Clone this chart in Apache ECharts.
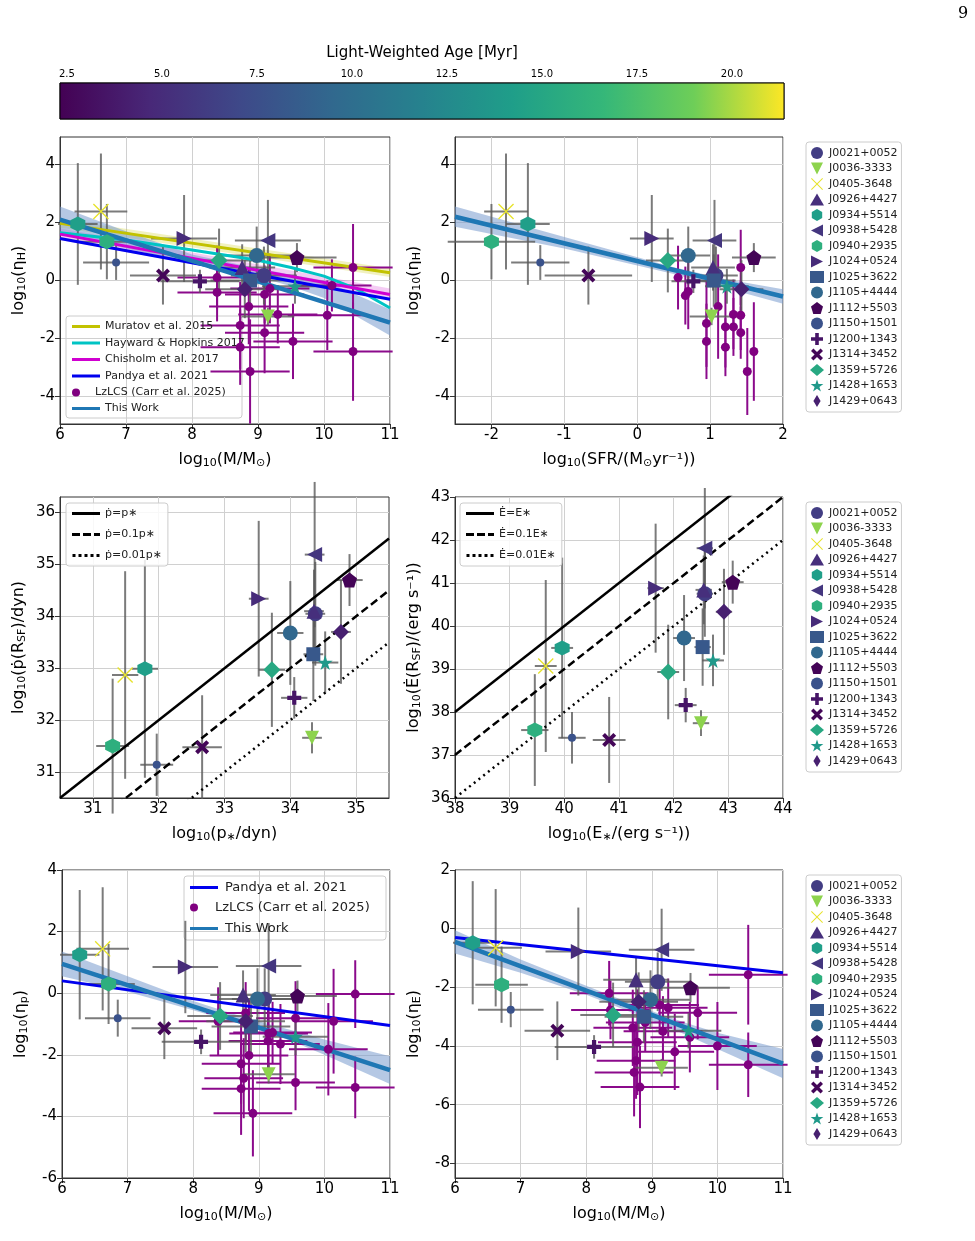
<!DOCTYPE html>
<html>
<head>
<meta charset="utf-8">
<script src="https://cdn.jsdelivr.net/npm/echarts@6/dist/echarts.min.js"></script>
<style>html,body{margin:0;background:#fff}#main{width:975px;height:1241px}</style>
</head>
<body>
<div id="main"></div>
<script>
// galaxies (legend order)
var names = ['J0021+0052','J0036-3333','J0405-3648','J0926+4427','J0934+5514','J0938+5428','J0940+2935','J1024+0524','J1025+3622','J1105+4444','J1112+5503','J1150+1501','J1200+1343','J1314+3452','J1359+5726','J1428+1653','J1429+0643'];
var ages = [6.2,19.5,21.0,5.2,14.3,5.7,15.8,5.0,8.2,9.5,2.5,7.8,3.5,2.6,15.2,13.8,4.2];
var massX = [9.09,9.15,6.62,8.76,6.27,9.15,6.71,7.88,8.88,8.98,9.59,6.85,8.12,7.56,8.41,9.56,8.80];
var etaH = [0.17,-1.24,2.38,0.45,1.95,1.38,1.34,1.45,0.0,0.86,0.79,0.62,-0.03,0.17,0.69,-0.2,-0.3];
var sfrX = [1.08,1.02,-1.8,1.04,-1.5,1.06,-2.0,0.2,1.05,0.7,1.6,-1.33,0.77,-0.67,0.42,1.23,1.43];
var pStar = [34.38,34.33,31.49,34.36,31.79,34.37,31.3,33.52,34.35,34.0,34.9,31.97,34.06,32.66,33.72,34.53,34.77];
var pDot = [34.05,31.66,32.87,34.1,32.99,35.19,31.5,34.34,33.27,33.68,34.7,31.14,32.43,31.48,32.97,33.11,33.7];
var eStar = [42.57,42.5,39.66,42.55,39.96,42.57,39.46,41.67,42.53,42.19,43.08,40.14,42.22,40.82,41.9,42.72,42.92];
var eDot = [40.75,37.74,39.07,40.84,39.49,41.81,37.58,40.88,39.51,39.72,41.02,37.4,38.16,37.35,38.93,39.2,40.33];
var etaP = [-0.19,-2.63,1.44,-0.06,1.25,0.88,0.3,0.85,-1.08,-0.19,-0.09,-0.81,-1.58,-1.14,-0.74,-1.41,-0.91];
var etaE = [-1.81,-4.74,-0.65,-1.74,-0.48,-0.72,-1.91,-0.78,-3.0,-2.42,-2.01,-2.76,-4.03,-3.48,-2.94,-3.48,-2.49];
var massErr = [0.5,0.4,0.4,0.5,0.3,0.5,0.4,0.5,0.6,0.6,0.6,0.5,0.6,0.5,0.5,0.5,0.6];
var sfrErr = [0.3,0.3,0.3,0.3,0.3,0.3,0.6,0.3,0.3,0.3,0.3,0.4,0.3,0.6,0.3,0.3,0.3];
var yErr = [1.0,0.3,2.0,0.8,2.1,1.4,1.3,1.5,0.9,1.0,0.5,0.6,0.4,1.0,1.1,0.6,1.0];
var pErr = [0.15,0.15,0.2,0.15,0.2,0.15,0.25,0.15,0.15,0.2,0.2,0.25,0.2,0.3,0.2,0.2,0.15];

// LzLCS comparison sample
var lzMass1 = [8.38,8.38,8.86,8.73,8.73,8.88,9.1,9.1,9.18,9.3,9.53,10.05,10.12,10.44,10.44];
var lzEtaH1 = [0.1,-0.41,-0.9,-1.55,-2.3,-3.14,-1.8,-0.48,-0.28,-1.17,-2.1,-1.2,-0.17,0.45,-2.45];
var lzSfr = [0.56,0.66,0.7,0.95,0.95,1.11,1.21,1.21,1.32,1.32,1.42,1.42,1.42,1.51,1.6];
var lzEtaH2 = [0.1,-0.52,-0.38,-1.48,-2.1,-0.9,-1.6,-2.3,-1.17,-1.6,0.45,-1.2,-1.8,-3.14,-2.45];
var lzMass5 = [8.38,8.8,8.73,8.73,8.77,8.85,8.91,9.14,9.15,9.21,9.33,9.56,9.56,10.06,10.14,10.47,10.47];
var lzEtaP = [-0.91,-0.64,-2.29,-3.1,-2.76,-2.02,-3.9,-1.55,-1.31,-1.28,-1.65,-0.81,-2.9,-1.82,-0.91,-0.03,-3.06];
var lzMass6 = [8.35,8.37,8.71,8.73,8.76,8.78,8.82,9.12,9.17,9.25,9.35,9.58,9.7,10.0,10.47,10.47,8.9];
var lzEtaE = [-2.2,-2.77,-3.38,-4.9,-4.5,-3.87,-5.4,-2.6,-3.5,-2.7,-4.2,-3.7,-2.87,-4.0,-1.57,-4.64,-3.2];

// literature relations and fits
var muratov = [[6,1.97],[11,0.27]];
var hayward = [[6,1.65],[7,1.4],[8,1.05],[9,0.7],[9.5,0.45],[10,0.15],[10.5,-0.3],[11,-0.95]];
var chisholm = [[6,1.6],[11,-0.48]];
var pandya1 = [[6,1.45],[11,-0.65]];
var fit1 = [[6,2.1],[11,-1.45]];
var band1 = [[6,1.65,2.55],[7,1.1,1.7],[8,0.6,0.9],[8.7,0.32,0.56],[9.5,-0.2,0.2],[10,-0.6,0.0],[11,-1.9,-1.0]];
var fit2 = [[-2.5,2.2],[2,-0.55]];
var band2 = [[-2.5,1.85,2.55],[-1,1.1,1.5],[0.5,0.22,0.46],[1.2,-0.25,0.05],[2,-0.8,-0.3]];
var pandya5 = [[6,0.4],[11,-1.05]];
var fit5 = [[6,0.95],[11,-2.5]];
var band5 = [[6,0.55,1.35],[7,0.05,0.55],[8,-0.55,-0.25],[8.8,-1.05,-0.8],[9.5,-1.55,-1.2],[10,-2.0,-1.5],[11,-2.95,-2.05]];
var pandya6 = [[6,-0.3],[11,-1.5]];
var fit6 = [[6,-0.45],[11,-4.6]];
var band6 = [[6,-0.85,-0.05],[7,-1.5,-1.05],[8,-2.25,-1.95],[8.8,-2.95,-2.65],[9.5,-3.6,-3.2],[10,-4.1,-3.55],[11,-5.1,-4.1]];
var oneToOne3 = [[30.5,30.5],[35.5,35.5]];
var tenth3 = [[30.5,29.5],[35.5,34.5]];
var hundredth3 = [[30.5,28.5],[35.5,33.5]];
var oneToOne4 = [[38,38],[44,44]];
var tenth4 = [[38,37],[44,43]];
var hundredth4 = [[38,36],[44,42]];
var ageTicks = [2.5,5,7.5,10,12.5,15,17.5,20];

var vir = ['#440154','#482878','#3e4989','#31688e','#26828e','#1f9e89','#35b779','#6ece58','#fde725'];
var AGE_MIN = 2.32, AGE_MAX = 21.37;
function hex(c){return [parseInt(c.substr(1,2),16),parseInt(c.substr(3,2),16),parseInt(c.substr(5,2),16)];}
function viridis(a){
  var t = Math.max(0,Math.min(1,(a-AGE_MIN)/(AGE_MAX-AGE_MIN)))*(vir.length-1);
  var i = Math.min(Math.floor(t),vir.length-2), f = t-i;
  var c0 = hex(vir[i]), c1 = hex(vir[i+1]);
  return 'rgb('+[0,1,2].map(function(k){return Math.round(c0[k]+(c1[k]-c0[k])*f)}).join(',')+')';
}

var P = {
  tdown:'path://M0,0L10,0L5,10Z',
  tleft:'path://M10,0L10,10L0,5Z',
  tright:'path://M0,0L10,5L0,10Z',
  xcross:'path://M2,0L5,3L8,0L10,2L7,5L10,8L8,10L5,7L2,10L0,8L3,5L0,2Z',
  thinx:'path://M0,0.6L0.6,0L5,4.4L9.4,0L10,0.6L5.6,5L10,9.4L9.4,10L5,5.6L0.6,10L0,9.4L4.4,5Z',
  plus:'path://M3.5,0H6.5V3.5H10V6.5H6.5V10H3.5V6.5H0V3.5H3.5Z',
  star:'path://M5,0L6.2,3.6L10,3.6L6.9,5.9L8.1,9.5L5,7.3L1.9,9.5L3.1,5.9L0,3.6L3.8,3.6Z',
  hex:'path://M5,0L9.33,2.5L9.33,7.5L5,10L0.67,7.5L0.67,2.5Z',
  pent:'path://M5,0L10,3.8L8.1,10L1.9,10L0,3.8Z',
  thind:'path://M5,0L8,5L5,10L2,5Z'
};
var sym = ['circle','tdown','thinx','triangle','hex','tleft','hex','tright','rect','circle','pent','circle','plus','xcross','diamond','star','thind'];
var size = [15,14,16,15,15,15,15,15,14,15,15,8,14,14,17,15,16];
function symOf(i){return P[sym[i]] || sym[i];}
var ICON_SOLID = 'path://M0,0H28V3H0Z';
var ICON_DASH = 'path://M0,0H8V3H0ZM11,0H19V3H11ZM22,0H28V3H22Z';
var ICON_DOT = 'path://M0,0H3V3H0ZM6,0H9V3H6ZM12,0H15V3H12ZM18,0H21V3H18ZM24,0H27V3H24Z';

var FONT = 'DejaVu Sans';
function errRender(color){
  return function(params, api){
    var x = api.value(0), y = api.value(1), ex = api.value(2), ey = api.value(3);
    var a = api.coord([x-ex,y]), b = api.coord([x+ex,y]), c = api.coord([x,y-ey]), d = api.coord([x,y+ey]);
    var st = {stroke:color, lineWidth:2};
    var ch = [];
    if (ex>0) ch.push({type:'line',shape:{x1:a[0],y1:a[1],x2:b[0],y2:b[1]},style:st});
    if (ey>0) ch.push({type:'line',shape:{x1:c[0],y1:c[1],x2:d[0],y2:d[1]},style:st});
    return {type:'group',children:ch};
  };
}
function bandRender(pts, color){
  return function(params, api){
    if (params.dataIndex !== 0) return;
    var poly = [];
    pts.forEach(function(p){poly.push(api.coord([p[0],p[2]]));});
    pts.slice().reverse().forEach(function(p){poly.push(api.coord([p[0],p[1]]));});
    return {type:'polygon',shape:{points:poly},style:{fill:color},silent:true};
  };
}

var grids = [
  {left:60,top:137,width:330,height:287},
  {left:455,top:137,width:328,height:287},
  {left:60,top:497,width:329,height:301},
  {left:455,top:497,width:328,height:301},
  {left:62,top:870,width:328,height:308},
  {left:455,top:870,width:328,height:308},
  {left:60,top:83,width:724,height:36}
];
var nameStyle = {fontFamily:FONT,fontSize:16,color:'#000',rich:{s:{fontFamily:FONT,fontSize:11,padding:[8,0,0,0]},n:{fontFamily:FONT,fontSize:16}}};
function xA(g,min,max,iv,name){
  return {type:'value',gridIndex:g,min:min,max:max,interval:iv,name:name,nameLocation:'middle',nameGap:26,nameTextStyle:nameStyle,
    axisLine:{show:true,onZero:false,lineStyle:{color:'#333'}},axisTick:{show:true,lineStyle:{color:'#333'}},
    axisLabel:{fontFamily:FONT,fontSize:15,color:'#000',margin:4},splitLine:{show:true,lineStyle:{color:'#d0d0d0'}}};
}
function yA(g,min,max,iv,name,custom){
  var a = {type:'value',gridIndex:g,min:min,max:max,interval:iv,name:name,nameLocation:'middle',nameGap:32,nameRotate:90,nameTextStyle:nameStyle,
    axisLine:{show:true,onZero:false,lineStyle:{color:'#333'}},axisTick:{show:true,lineStyle:{color:'#333'}},
    axisLabel:{fontFamily:FONT,fontSize:15,color:'#000',margin:5},splitLine:{show:true,lineStyle:{color:'#d0d0d0'}}};
  if (custom){a.axisTick.customValues = custom; a.axisLabel.customValues = custom; delete a.interval;}
  return a;
}
var xAxis = [
  xA(0,6,11,1,'{n|log}{s|10}{n|(M/M}{s|⊙}{n|)}'),
  xA(1,-2.5,2,1,'{n|log}{s|10}{n|(SFR/(M}{s|⊙}{n|yr⁻¹))}'),
  xA(2,30.5,35.5,1,'{n|log}{s|10}{n|(p}{s|∗}{n|/dyn)}'),
  xA(3,38,44,1,'{n|log}{s|10}{n|(E}{s|∗}{n|/(erg s⁻¹))}'),
  xA(4,6,11,1,'{n|log}{s|10}{n|(M/M}{s|⊙}{n|)}'),
  xA(5,6,11,1,'{n|log}{s|10}{n|(M/M}{s|⊙}{n|)}'),
  {type:'value',gridIndex:6,min:AGE_MIN,max:AGE_MAX,position:'top',name:'Light-Weighted Age [Myr]',nameLocation:'middle',nameGap:22,
    nameTextStyle:{fontFamily:FONT,fontSize:15,color:'#000'},axisLine:{show:false},splitLine:{show:false},
    axisTick:{show:true,customValues:ageTicks,lineStyle:{color:'#333'}},
    axisLabel:{customValues:ageTicks,fontFamily:FONT,fontSize:10,color:'#000',margin:4,formatter:function(v){return v.toFixed(1);}}}
];
xAxis[1].axisTick.customValues = [-2,-1,0,1,2]; xAxis[1].axisLabel.customValues = [-2,-1,0,1,2]; delete xAxis[1].interval;
xAxis[2].axisTick.customValues = [31,32,33,34,35]; xAxis[2].axisLabel.customValues = [31,32,33,34,35]; delete xAxis[2].interval;
var yAxis = [
  yA(0,-4.95,4.95,null,'{n|log}{s|10}{n|(η}{s|H}{n|)}',[-4,-2,0,2,4]),
  yA(1,-4.95,4.95,null,'{n|log}{s|10}{n|(η}{s|H}{n|)}',[-4,-2,0,2,4]),
  yA(2,30.5,36.3,null,'{n|log}{s|10}{n|(ṗ(R}{s|SF}{n|)/dyn)}',[31,32,33,34,35,36]),
  yA(3,36,43,1,'{n|log}{s|10}{n|(Ė(R}{s|SF}{n|)/(erg s⁻¹))}'),
  yA(4,-6,4,2,'{n|log}{s|10}{n|(η}{s|p}{n|)}'),
  yA(5,-8.5,2,null,'{n|log}{s|10}{n|(η}{s|E}{n|)}',[-8,-6,-4,-2,0,2]),
  {type:'value',gridIndex:6,min:0,max:1,show:false}
];

var series = [];
// colour bar
series.push({type:'custom',xAxisIndex:6,yAxisIndex:6,silent:true,data:[[AGE_MIN,0]],renderItem:function(p,api){
  var a = api.coord([AGE_MIN,1]), b = api.coord([AGE_MAX,0]);
  var stops = vir.map(function(c,i){return {offset:i/(vir.length-1),color:c};});
  return {type:'rect',shape:{x:a[0],y:a[1],width:b[0]-a[0],height:b[1]-a[1]},
    style:{fill:new echarts.graphic.LinearGradient(0,0,1,0,stops),stroke:'#000',lineWidth:1}};
}});

function lineS(name,g,data,color,w,type,z){
  return {name:name,type:'line',xAxisIndex:g,yAxisIndex:g,data:data,symbol:'none',showSymbol:false,z:z||3,
    lineStyle:{color:color,width:w,type:type||'solid'},itemStyle:{color:color},silent:true};
}
function bandS(g,pts,color){
  return {type:'custom',xAxisIndex:g,yAxisIndex:g,data:pts.map(function(p){return [p[0],p[1]];}),renderItem:bandRender(pts,color),z:1,silent:true};
}
function lzS(g,xs,ys,ex,ey){
  series.push({type:'custom',xAxisIndex:g,yAxisIndex:g,z:2,silent:true,
    data:xs.map(function(x,i){return [x,ys[i],ex,ey[i%ey.length]];}),renderItem:errRender('#8b0a8b')});
  series.push({name:'LzLCS (Carr et al. 2025)',type:'scatter',xAxisIndex:g,yAxisIndex:g,z:4,symbolSize:9,
    itemStyle:{color:'#800080',opacity:1},data:xs.map(function(x,i){return [x,ys[i]];})});
}
var lzEy = [1.1,1.0,1.3,1.5,1.3,1.8,1.4,1.0,1.2,1.0,1.3,1.2,0.9,1.5,1.7];
function galaxies(g,xs,ys,ex,ey){
  series.push({type:'custom',xAxisIndex:g,yAxisIndex:g,z:3,silent:true,
    data:xs.map(function(x,i){return [x,ys[i],ex[i],ey[i]];}),renderItem:errRender('rgba(90,90,90,0.8)')});
  names.forEach(function(n,i){
    series.push({name:n,type:'scatter',xAxisIndex:g,yAxisIndex:g,z:6,symbol:symOf(i),symbolSize:size[i],
      itemStyle:{color:viridis(ages[i]),opacity:1},data:[[xs[i],ys[i]]]});
  });
}

// panel 1
series.push(bandS(0,muratov.map(function(p){return [p[0],p[1]-0.15,p[1]+0.15];}),'rgba(200,200,0,0.25)'));
series.push(bandS(0,chisholm.map(function(p){return [p[0],p[1]-0.2,p[1]+0.2];}),'rgba(200,0,200,0.2)'));
series.push(bandS(0,band1,'rgba(120,155,205,0.55)'));
lzS(0,lzMass1,lzEtaH1,0.6,lzEy);
series.push(lineS('Muratov et al. 2015',0,muratov,'#c2c200',3));
series.push(lineS('Hayward & Hopkins 2017',0,hayward,'#00c4c4',3));
series.push(lineS('Chisholm et al. 2017',0,chisholm,'#d000d0',3));
series.push(lineS('Pandya et al. 2021',0,pandya1,'#0000ee',3));
series.push(lineS('This Work',0,fit1,'#1f77b4',4.5,'solid',4));
galaxies(0,massX,etaH,massErr,yErr);
// panel 2
series.push(bandS(1,band2,'rgba(120,155,205,0.55)'));
lzS(1,lzSfr,lzEtaH2,0,lzEy);
series.push(lineS('This Work',1,fit2,'#1f77b4',4.5,'solid',4));
galaxies(1,sfrX,etaH,sfrErr,yErr);
// panel 3
series.push(lineS('ṗ=p∗',2,oneToOne3,'#000',2.5));
series.push(lineS('ṗ=0.1p∗',2,tenth3,'#000',2.5,[8,4]));
series.push(lineS('ṗ=0.01p∗',2,hundredth3,'#000',2.5,[2,4]));
galaxies(2,pStar,pDot,pErr,yErr);
// panel 4
series.push(lineS('Ė=E∗',3,oneToOne4,'#000',2.5));
series.push(lineS('Ė=0.1E∗',3,tenth4,'#000',2.5,[8,4]));
series.push(lineS('Ė=0.01E∗',3,hundredth4,'#000',2.5,[2,4]));
galaxies(3,eStar,eDot,pErr,yErr);
// panel 5
series.push(bandS(4,band5,'rgba(120,155,205,0.55)'));
lzS(4,lzMass5,lzEtaP,0.6,lzEy);
series.push(lineS('Pandya et al. 2021',4,pandya5,'#0000ee',3));
series.push(lineS('This Work',4,fit5,'#1f77b4',4.5,'solid',4));
galaxies(4,massX,etaP,massErr,yErr);
// panel 6
series.push(bandS(5,band6,'rgba(120,155,205,0.55)'));
lzS(5,lzMass6,lzEtaE,0.6,lzEy);
series.push(lineS('Pandya et al. 2021',5,pandya6,'#0000ee',3));
series.push(lineS('This Work',5,fit6,'#1f77b4',4.5,'solid',4));
galaxies(5,massX,etaE,massErr,yErr);

function boxLegend(o){
  return Object.assign({orient:'vertical',selectedMode:false,backgroundColor:'rgba(255,255,255,0.85)',borderColor:'#ccc',borderWidth:1,borderRadius:3,
    padding:[5,6],itemWidth:28,itemHeight:3,textStyle:{fontFamily:FONT,fontSize:11,color:'#222'}},o);
}
function bare(o){return boxLegend(Object.assign({backgroundColor:'transparent',borderWidth:0,padding:0},o));}
function li(name,color,icon){return {name:name,icon:icon||ICON_SOLID,itemStyle:{color:color}};}
var galLeg = function(top){
  return boxLegend({left:806,top:top,itemGap:3.5,itemWidth:14,itemHeight:12,padding:[5,4],data:names.map(function(n,i){
    return {name:n,icon:symOf(i),itemStyle:{color:viridis(ages[i])}};})});
};
var lzItem = {name:'LzLCS (Carr et al. 2025)',icon:'circle',itemStyle:{color:'#800080'}};
var legends = [
  bare({left:72,top:321,itemGap:5.5,data:[li('Muratov et al. 2015','#c2c200'),li('Hayward & Hopkins 2017','#00c4c4'),
    li('Chisholm et al. 2017','#d000d0'),li('Pandya et al. 2021','#0000ee')]}),
  bare({left:72,top:387,itemWidth:28,itemHeight:8,data:[lzItem]}),
  bare({left:72,top:403,data:[li('This Work','#1f77b4')]}),
  boxLegend({left:66,top:503,itemGap:10,data:[li('ṗ=p∗','#000'),li('ṗ=0.1p∗','#000',ICON_DASH),li('ṗ=0.01p∗','#000',ICON_DOT)]}),
  boxLegend({left:460,top:503,itemGap:10,data:[li('Ė=E∗','#000'),li('Ė=0.1E∗','#000',ICON_DASH),li('Ė=0.01E∗','#000',ICON_DOT)]}),
  bare({left:190,top:881,itemWidth:32,textStyle:{fontFamily:FONT,fontSize:13,color:'#222'},data:[li('Pandya et al. 2021','#0000ee')]}),
  bare({left:190,top:901,itemWidth:32,itemHeight:8,textStyle:{fontFamily:FONT,fontSize:13,color:'#222'},data:[lzItem]}),
  bare({left:190,top:922,itemWidth:32,textStyle:{fontFamily:FONT,fontSize:13,color:'#222'},data:[li('This Work','#1f77b4')]}),
  galLeg(142), galLeg(502), galLeg(875)
];

var chart = echarts.init(document.getElementById('main'));
chart.setOption({
  animation:false,
  grid:grids.map(function(g){return Object.assign({show:true,borderColor:'#333',borderWidth:1,backgroundColor:'transparent'},g);}),
  xAxis:xAxis, yAxis:yAxis, series:series, legend:legends,
  graphic:[
    {type:'text',left:958,top:6,style:{text:'9',font:'16px "DejaVu Serif"',fill:'#000'}},
    {type:'rect',z:-1,zlevel:0,shape:{x:66,y:316,width:176,height:102,r:3},style:{fill:'rgba(255,255,255,0.85)',stroke:'#ccc'}},
    {type:'rect',z:-1,zlevel:0,shape:{x:184,y:876,width:202,height:64,r:3},style:{fill:'rgba(255,255,255,0.85)',stroke:'#ccc'}}
  ]
});
</script>
</body>
</html>
